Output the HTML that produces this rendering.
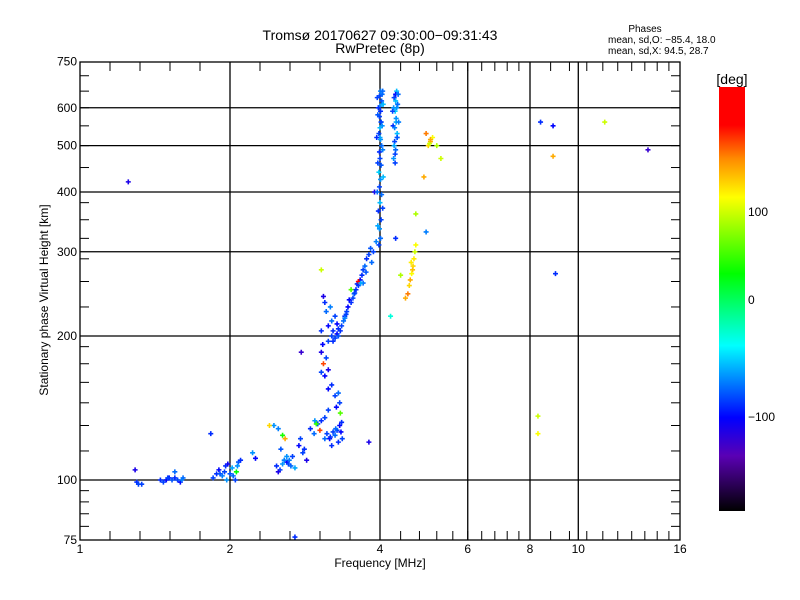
<!DOCTYPE html>
<html><head><meta charset="utf-8"><style>
body{margin:0;background:#fff;}
svg{display:block;font-family:"Liberation Sans",sans-serif;}
</style></head><body>
<svg id="chart" width="800" height="600" viewBox="0 0 800 600">
<defs>
<linearGradient id="cbg" x1="0" y1="0" x2="0" y2="1">
<stop offset="0" stop-color="#ff0000"/><stop offset="0.09" stop-color="#ff0000"/>
<stop offset="0.17" stop-color="#ff8c00"/><stop offset="0.26" stop-color="#ffff00"/>
<stop offset="0.44" stop-color="#00ff00"/><stop offset="0.61" stop-color="#00ffff"/>
<stop offset="0.78" stop-color="#0000ff"/><stop offset="0.87" stop-color="#5a00b4"/>
<stop offset="1" stop-color="#000000"/></linearGradient></defs>
<text x="380" y="40" font-size="14" text-anchor="middle">Tromsø 20170627 09:30:00−09:31:43</text>
<text x="380" y="53" font-size="14" text-anchor="middle">RwPretec (8p)</text>
<text x="645" y="32" font-size="10" text-anchor="middle">Phases</text>
<text x="608" y="43" font-size="10">mean, sd,O: −85.4, 18.0</text>
<text x="608" y="54" font-size="10">mean, sd,X:  94.5, 28.7</text>
<g id="grid"></g><g id="marks"></g><g id="axes"></g>
<text x="380" y="567" font-size="12" text-anchor="middle">Frequency [MHz]</text>
<text transform="translate(48,300) rotate(-90)" font-size="12" text-anchor="middle">Stationary phase Virtual Height [km]</text>
<rect x="719" y="87" width="26" height="424" fill="url(#cbg)"/>
<text x="732" y="84" font-size="14" text-anchor="middle">[deg]</text>
<text x="748" y="216" font-size="12">100</text>
<text x="748" y="304" font-size="12">0</text>
<text x="748" y="421" font-size="12">−100</text>
</svg>
<script>
const xTickVals=[1,2,4,6,8,10,16];
const yTickVals=[75,100,200,300,400,500,600,750];
const gridX=[2,4,6,8,10];
const gridY=[100,200,300,400,500,600];
const freqs=[1.30,1.31,1.33,1.29,1.45,1.47,1.49,1.51,1.53,1.55,1.57,1.59,1.61,1.55,
1.85,1.88,1.90,1.93,1.95,1.97,2.00,2.03,1.96,2.05,2.08,2.10,2.07,1.98,1.83,2.06,2.22,2.25,
2.45,2.50,2.40,2.53,2.55,2.58,2.48,2.52,2.55,2.57,2.60,2.63,2.65,2.67,2.50,2.60,
2.75,2.80,2.82,2.85,2.77,2.90,2.95,3.00,3.05,3.10,3.15,2.96,2.98,3.03,
3.10,3.13,3.17,3.20,3.22,3.25,3.28,3.30,3.32,3.35,3.34,3.27,3.32,3.33,3.15,3.20,3.25,3.30,3.10,3.05,3.15,3.08,3.12,
3.07,3.05,3.15,3.05,3.10,3.08,3.12,3.15,3.20,3.22,3.25,3.28,3.30,3.35,3.38,3.40,3.43,3.45,3.50,3.53,3.55,3.58,3.62,3.65,3.68,3.70,3.73,3.76,3.80,3.83,3.20,3.25,3.18,3.50,3.60,3.62,3.70,3.28,3.33,3.42,3.47,
3.98,4.01,3.99,4.02,3.97,4.00,4.03,3.99,4.01,3.98,4.02,4.00,3.99,4.03,4.01,3.98,4.00,4.02,3.99,4.01,4.00,4.03,3.99,4.01,4.04,3.97,4.02,4.00,
4.26,4.30,4.28,4.33,4.25,4.31,4.29,4.34,4.27,4.32,4.30,4.26,4.33,4.29,4.31,4.28,
4.50,4.55,4.58,4.60,4.63,4.66,4.68,4.70,4.72,4.40,5.00,5.05,5.10,4.95,5.03,4.90,5.20,5.30,4.72,
1.25,2.78,2.70,3.90,3.80,4.30,4.95,8.40,8.90,9.00,8.90,8.30,8.30,11.3,13.8,3.05,4.20,
1.50,1.60,1.91,2.02,2.57,2.62,2.70,3.18,3.26,3.36,3.30,3.22,3.40,3.56,3.66,3.75,3.85,3.88,3.93,
3.96,4.05,3.95,4.06,3.96,4.05,3.94,4.04,3.96,4.06,3.95,4.05,4.27,4.33,4.36,4.24,4.30,4.35,4.29,4.32,4.62,4.65,5.05];
const heights=[99,98,98,105,100,99,100,101,100,101,100,99,101,104,
101,103,105,102,104,100,103,102,107,100,109,110,107,108,125,104,114,111,
130,128,130,116,124,122,107,105,108,110,112,110,107,112,104,109,
118,114,116,110,122,128,125,131,133,135,140,133,131,127,
122,125,122,118,126,124,127,120,130,132,126,142,145,138,155,158,150,152,165,168,170,175,180,
192,185,195,205,235,242,225,210,200,195,198,202,207,210,215,220,225,230,235,240,245,250,255,262,268,275,280,290,296,305,215,220,230,250,257,260,258,212,205,222,238,
310,320,335,350,365,380,395,410,425,440,455,470,485,500,515,530,545,560,575,590,605,620,635,650,640,600,560,520,
470,490,510,530,550,570,590,610,630,650,640,600,520,480,560,545,
240,245,255,262,270,280,290,300,310,268,500,510,520,530,505,430,500,470,360,
420,185,76,400,120,320,330,560,550,270,475,136,125,560,490,275,220,
101,100,103,106,110,108,106,123,128,122,200,205,218,246,258,272,285,300,315,
340,370,400,430,460,490,520,550,580,610,630,650,500,520,560,590,620,640,460,600,285,275,515];
const phases=[-90,-85,-85,-110,-90,-85,-100,-95,-80,-90,-85,-100,-75,-75,
-85,-90,-100,-70,-85,-65,-80,-75,-90,-85,-80,-90,-65,-105,-90,30,-65,-100,
-65,-70,120,-80,40,130,-90,-85,-65,-55,-65,-70,-75,-85,-110,-100,
-100,-85,-90,-110,-85,-90,-75,-85,-90,-85,-85,-65,50,150,
-75,-85,-100,-90,-85,-75,-85,-90,-100,-90,-100,-100,-85,60,-100,-90,-85,-75,-100,-85,-110,150,-85,
-100,-110,-85,-90,-90,-110,-75,-100,-85,-90,-85,-100,-90,-85,-75,-90,-85,-100,-90,-85,-75,-90,-85,-100,-90,-85,-75,-90,-85,-80,-75,-85,-70,60,-90,170,-75,-100,-90,-85,-100,
-85,-75,-65,-85,-90,-55,-75,-85,-65,-50,-80,-85,-90,-75,-65,-85,-55,-75,-85,-90,-65,-80,-85,-70,-75,-90,-85,-60,
-65,-75,-85,-55,-90,-65,-50,-75,-85,-55,-100,-65,-75,-85,-60,-70,
130,140,120,130,110,120,115,100,110,90,120,130,110,140,100,130,90,100,90,
-110,-120,-90,-110,-110,-90,-70,-90,-100,-90,130,100,110,100,-120,100,-30,
-85,-70,-80,-60,-70,-85,-60,-90,-75,-85,-80,-90,-70,-85,-60,-80,-75,-85,-70,
-60,-85,-75,-55,-85,-70,-90,-65,-80,-55,-85,-75,-60,-80,-70,-85,-55,-75,-85,-65,115,125,130];

const X0=80,X1=680,Y0=62,Y1=540;
function xs(f){return X0+150*Math.log2(f);}
function ys(h){return 480-144*Math.log2(h/100);}
const NS="http://www.w3.org/2000/svg";
function mk(tag,attrs,parent){const e=document.createElementNS(NS,tag);for(const k in attrs)e.setAttribute(k,attrs[k]);parent.appendChild(e);return e;}
const grid=document.getElementById('grid'),axes=document.getElementById('axes'),marks=document.getElementById('marks');
gridX.forEach(v=>{const l=mk('line',{x1:xs(v),x2:xs(v),y1:Y0,y2:Y1,stroke:'#000','stroke-width':1.3},grid);

});
gridY.forEach(v=>{const l=mk('line',{x1:X0,x2:X1,y1:ys(v),y2:ys(v),stroke:'#000','stroke-width':1.3},grid);

});
const frame=mk('rect',{x:X0,y:Y0,width:X1-X0,height:Y1-Y0,fill:'none',stroke:'#000','stroke-width':1.3},axes);


const mx=[];for(let p=X0;p<380;p+=30)mx.push(p);
for(let f=4;f<8;f+=0.4)mx.push(xs(f));for(let f=8;f<=16;f+=0.8)mx.push(xs(f));
mx.forEach(p=>{mk('line',{x1:p,x2:p,y1:Y1,y2:Y1-9,stroke:'#000'},axes);mk('line',{x1:p,x2:p,y1:Y0,y2:Y0+9,stroke:'#000'},axes);});
const my=[80,85,90,95];for(let h=115;h<200;h+=15)my.push(h);for(let h=230;h<400;h+=30)my.push(h);for(let h=450;h<750;h+=50)my.push(h);
my.forEach(h=>{const p=ys(h);mk('line',{x1:X0,x2:X0+9,y1:p,y2:p,stroke:'#000'},axes);mk('line',{x1:X1,x2:X1-9,y1:p,y2:p,stroke:'#000'},axes);});
xTickVals.forEach(v=>{const t=mk('text',{x:xs(v),y:553,'font-size':12,'text-anchor':'middle'},axes);t.textContent=v;

});
yTickVals.forEach(v=>{const t=mk('text',{x:77,y:ys(v)+4,'font-size':12,'text-anchor':'end'},axes);t.textContent=v;

});
const cstops=[[87,[255,0,0]],[125,[255,0,0]],[160,[255,140,0]],[197,[255,255,0]],[272,[0,255,0]],[345,[0,255,255]],[418,[0,0,255]],[455,[90,0,180]],[511,[0,0,0]]];
const pstops=[[-180,511],[-100,417],[0,300],[100,212],[180,100]];
function phaseY(p){for(let i=0;i<pstops.length-1;i++){const a=pstops[i],b=pstops[i+1];if(p<=b[0]){const t=(p-a[0])/(b[0]-a[0]);return a[1]+t*(b[1]-a[1]);}}return 100;}
function col(p){const y=Math.max(87,Math.min(511,phaseY(p)));for(let i=0;i<cstops.length-1;i++){const a=cstops[i],b=cstops[i+1];if(y<=b[0]){const t=(y-a[0])/(b[0]-a[0]);const c=a[1].map((v,k)=>Math.round(v+t*(b[1][k]-v)));return 'rgb('+c.join(',')+')';}}return '#000';}
freqs.forEach((f,i)=>{const x=xs(f),y=ys(heights[i]);const c=col(phases[i]);
const d='M'+(x-2.5)+' '+y+'H'+(x+2.5)+'M'+x+' '+(y-2.5)+'V'+(y+2.5);
const m=mk('path',{d:d,stroke:c,'stroke-width':1.6,fill:'none'},marks);

});
</script>
</body></html>
